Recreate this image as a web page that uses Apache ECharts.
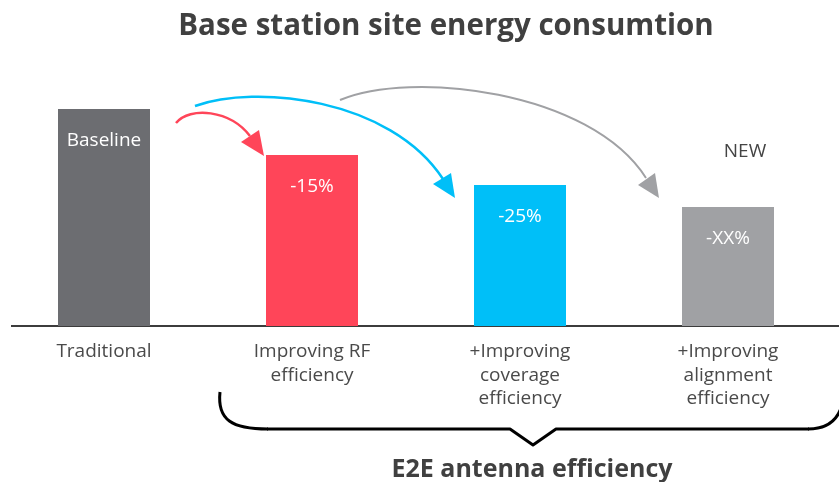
<!DOCTYPE html>
<html>
<head>
<meta charset="utf-8">
<script src="https://cdn.jsdelivr.net/npm/echarts@6/dist/echarts.min.js"></script>
<style>html,body{margin:0;padding:0;background:#fff;}#chart{width:839px;height:482px;}</style>
</head>
<body>
<div id="chart"></div>
<script>
const categories = ['Traditional', 'Improving RF\nefficiency', '+Improving\ncoverage\nefficiency', '+Improving\nalignment\nefficiency'];
const values = [100, 78.8, 65.0, 54.8];
const barLabels = ['Baseline', '-15%', '-25%', '-XX%'];
const barColors = ['#6c6d71', '#ff4559', '#00bff8', '#a0a1a4'];

const FONT = '"Open Sans", "Noto Sans", sans-serif';
const chart = echarts.init(document.getElementById('chart'));

chart.setOption({
  animation: false,
  title: [
    { text: 'Base station site energy consumtion', left: 441, top: 7, textAlign: 'center',
      textStyle: { fontFamily: FONT, fontSize: 29.5, fontWeight: 'bold', color: '#404040' } },
    { text: 'E2E antenna efficiency', left: 527, top: 452, textAlign: 'center',
      textStyle: { fontFamily: FONT, fontSize: 25, fontWeight: 'bold', color: '#404040' } }
  ],
  grid: { left: 0, right: 7, top: 109, bottom: 156 },
  xAxis: {
    type: 'category', data: categories,
    axisLine: { show: false }, axisTick: { show: false },
    axisLabel: { margin: 14, fontFamily: FONT, fontSize: 19, lineHeight: 23.5, color: '#4a4a4a', interval: 0 }
  },
  yAxis: { type: 'value', min: 0, max: 100, show: false, splitLine: { show: false } },
  series: [{
    type: 'bar', barWidth: 92,
    data: values.map((v, i) => ({
      value: v,
      itemStyle: { color: barColors[i] },
      label: { show: true, position: 'insideTop', distance: 22, formatter: barLabels[i],
        fontFamily: FONT, fontSize: 19, color: '#ffffff' }
    }))
  }],
  graphic: [
    { type: 'line', shape: { x1: 11, y1: 326, x2: 839, y2: 326 }, style: { stroke: '#3c3c3c', lineWidth: 2 } },
    { type: 'text', x: 745, y: 152, style: { text: 'NEW', fontFamily: FONT, fontSize: 19, fill: '#444444', align: 'center', verticalAlign: 'middle' } },
    // red arrow
    { type: 'bezierCurve', shape: { x1: 176, y1: 123, cpx1: 190, cpy1: 106, cpx2: 230, cpy2: 110, x2: 250, y2: 136 },
      style: { stroke: '#ff4559', lineWidth: 2.5, fill: null } },
    { type: 'polygon', shape: { points: [[241, 142], [259, 130], [264, 156]] }, style: { fill: '#ff4559' } },
    // cyan arrow
    { type: 'bezierCurve', shape: { x1: 195, y1: 106, cpx1: 255, cpy1: 84, cpx2: 390, cpy2: 98, x2: 443, y2: 179 },
      style: { stroke: '#00bff8', lineWidth: 2.5, fill: null } },
    { type: 'polygon', shape: { points: [[433, 184], [451, 173], [455, 198]] }, style: { fill: '#00bff8' } },
    // gray arrow
    { type: 'bezierCurve', shape: { x1: 340, y1: 100, cpx1: 410, cpy1: 70, cpx2: 590, cpy2: 90, x2: 646, y2: 178 },
      style: { stroke: '#a0a1a4', lineWidth: 2, fill: null } },
    { type: 'polygon', shape: { points: [[638, 185], [655, 173], [659, 198]] }, style: { fill: '#a0a1a4' } },
    // brace
    { type: 'bezierCurve', shape: { x1: 220, y1: 392, cpx1: 217, cpy1: 420, cpx2: 232, cpy2: 429, x2: 268, y2: 429 },
      style: { stroke: '#000000', lineWidth: 3, fill: null } },
    { type: 'polyline', shape: { points: [[267, 429], [510, 429], [533, 445], [556, 429], [809, 429]] },
      style: { stroke: '#000000', lineWidth: 3, fill: null, lineJoin: 'round' } },
    { type: 'bezierCurve', shape: { x1: 808, y1: 429, cpx1: 830, cpy1: 429, cpx2: 840, cpy2: 418, x2: 843, y2: 400 },
      style: { stroke: '#000000', lineWidth: 3, fill: null } }
  ]
});
</script>
</body>
</html>
